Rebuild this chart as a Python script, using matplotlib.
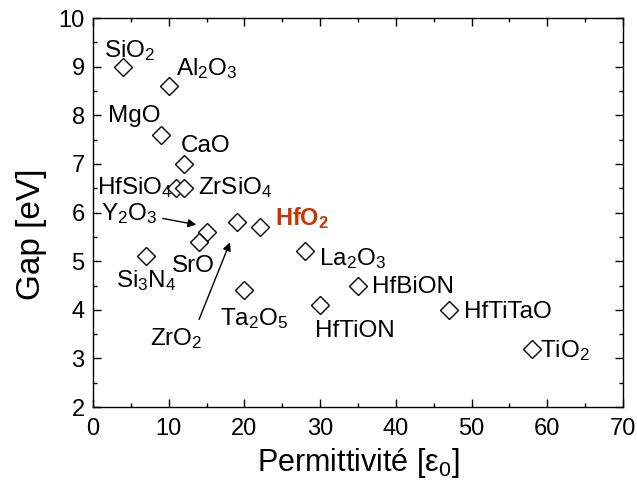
import matplotlib
matplotlib.use('Agg')
import matplotlib.pyplot as plt
from matplotlib.ticker import MultipleLocator

plt.rcParams['font.family'] = ['Liberation Sans', 'DejaVu Sans']
plt.rcParams['mathtext.fontset'] = 'custom'
plt.rcParams['mathtext.rm'] = 'Liberation Sans'
plt.rcParams['mathtext.it'] = 'Liberation Sans'
plt.rcParams['mathtext.bf'] = 'Liberation Sans:bold'

# materials: permittivity, gap
names = ['SiO2', 'Al2O3', 'MgO', 'CaO', 'HfSiO4', 'ZrSiO4', 'Y2O3', 'SrO',
         'Si3N4', 'ZrO2', 'HfO2', 'La2O3', 'Ta2O5', 'HfTiON', 'HfBiON',
         'HfTiTaO', 'TiO2']
eps = [4, 10, 9, 12, 11, 12, 15, 14, 7, 19, 22, 28, 20, 30, 35, 47, 58]
gap = [9.0, 8.6, 7.6, 7.0, 6.5, 6.5, 5.6, 5.4, 5.1, 5.8, 5.7, 5.2, 4.4, 4.1, 4.5, 4.0, 3.2]

# label text, x, y, alignment
labels = [
    (r'$\mathregular{SiO_2}$', 8.19, 9.20, 'right'),
    (r'$\mathregular{Al_2O_3}$', 10.96, 8.83, 'left'),
    ('MgO', 8.85, 7.86, 'right'),
    ('CaO', 11.62, 7.25, 'left'),
    (r'$\mathregular{HfSiO_4}$', 10.57, 6.38, 'right'),
    (r'$\mathregular{ZrSiO_4}$', 13.87, 6.38, 'left'),
    (r'$\mathregular{Y_2O_3}$', 8.45, 5.85, 'right'),
    ('SrO', 16.11, 4.78, 'right'),
    (r'$\mathregular{Si_3N_4}$', 11.09, 4.47, 'right'),
    (r'$\mathregular{ZrO_2}$', 14.53, 3.28, 'right'),
    (r'$\mathregular{La_2O_3}$', 29.85, 4.92, 'left'),
    (r'$\mathregular{Ta_2O_5}$', 16.77, 3.69, 'left'),
    ('HfTiON', 29.32, 3.44, 'left'),
    ('HfBiON', 36.85, 4.35, 'left'),
    ('HfTiTaO', 49.0, 3.83, 'left'),
    (r'$\mathregular{TiO_2}$', 59.04, 3.03, 'left'),
]

fig = plt.figure(figsize=(6.37, 4.87), dpi=100)
ax = fig.add_axes([0.146, 0.164, 0.832, 0.799])

ax.plot(eps, gap, linestyle='none', marker='D', ms=9.5, mfc='white',
        mec='black', mew=1.0)

for txt, tx, ty, ha in labels:
    ax.text(tx, ty, txt, fontsize=17.5, ha=ha, va='baseline')

# highlighted HfO2
ax.text(24.04, 5.74, r'$\mathbf{HfO_2}$', fontsize=17, ha='left', va='baseline',
        color='#cc3300')

# arrows
ax.annotate('', xy=(14.0, 5.74), xytext=(8.85, 5.89),
            arrowprops=dict(arrowstyle='-|>', color='black', lw=1.0, mutation_scale=12))
ax.annotate('', xy=(18.23, 5.44), xytext=(13.87, 3.75),
            arrowprops=dict(arrowstyle='-|>', color='black', lw=1.0, mutation_scale=12))

ax.set_xlim(0, 70)
ax.set_ylim(2, 10)
ax.xaxis.set_major_locator(MultipleLocator(10))
ax.xaxis.set_minor_locator(MultipleLocator(5))
ax.yaxis.set_major_locator(MultipleLocator(1))
ax.yaxis.set_minor_locator(MultipleLocator(0.5))
ax.tick_params(which='both', direction='in', top=True, right=True, width=1.0)
ax.tick_params(which='major', length=6, labelsize=17)
ax.tick_params(which='minor', length=3)
ax.tick_params(axis='x', which='major', pad=8)
ax.tick_params(axis='y', which='major', pad=6)
for s in ax.spines.values():
    s.set_linewidth(1.0)

ax.set_xlabel(r'Permittivité [$\mathregular{ε_0}$]', fontsize=22, labelpad=4)
ax.set_ylabel('Gap [eV]', fontsize=24, labelpad=8, y=0.445)

fig.savefig('out.png', dpi=100)
